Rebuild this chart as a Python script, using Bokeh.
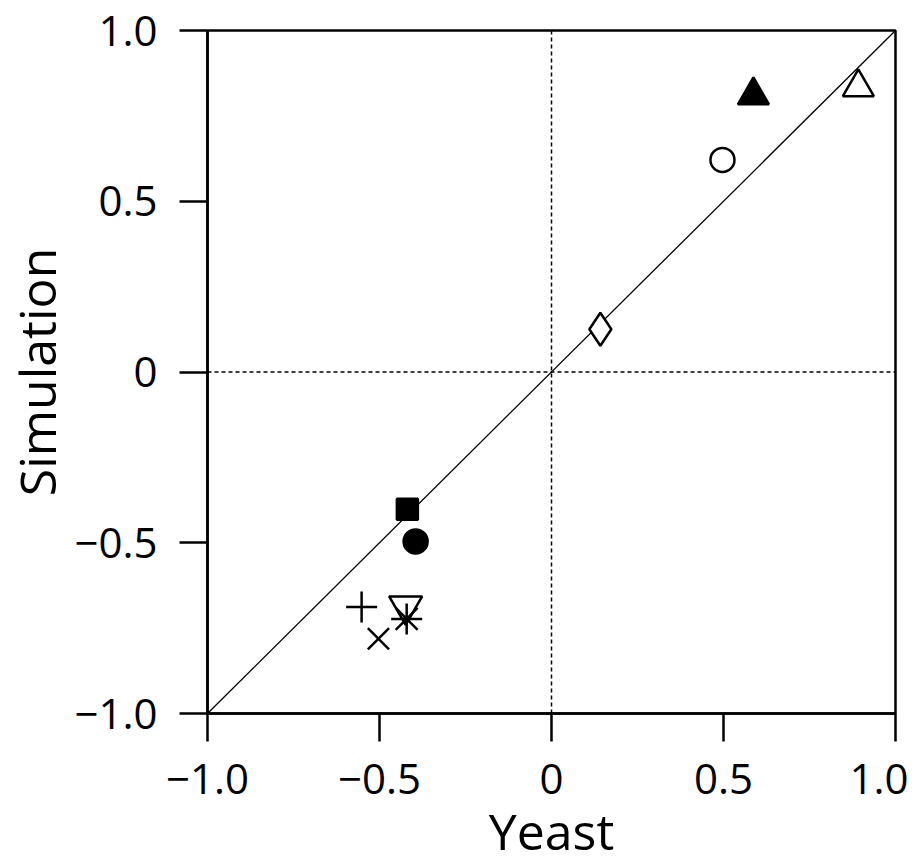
from bokeh.plotting import figure
from bokeh.models import Range1d, FixedTicker, Span, ColumnDataSource
from bokeh.embed import file_html
from bokeh.resources import INLINE

# data
yeast = [0.587, 0.892, 0.497, 0.142, -0.419, -0.395, -0.552, -0.503, -0.424, -0.421]
simulation = [0.810, 0.834, 0.621, 0.125, -0.402, -0.496, -0.688, -0.781, -0.685, -0.723]
markers = ["triangle", "triangle", "circle", "diamond", "square", "circle",
           "cross", "x", "inverted_triangle", "asterisk"]
fills = ["black", "white", "white", "white", "black", "black",
         "white", "white", "white", "white"]
sizes = [31, 31, 24, 33, 21, 24, 31, 30, 33, 31]
diag_x = [-1.0, 1.0]
diag_y = [-1.0, 1.0]
ticks = [-1.0, -0.5, 0.0, 0.5, 1.0]
tick_labels = ["\u22121.0", "\u22120.5", "0", "0.5", "1.0"]
x_title = "Yeast"
y_title = "Simulation"

FONT = "Open Sans"

p = figure(output_backend="svg", toolbar_location=None,
           frame_width=688, frame_height=683,
           min_border_left=207, min_border_right=13,
           min_border_top=30, min_border_bottom=120,
           x_range=Range1d(-1, 1), y_range=Range1d(-1, 1))
p.grid.visible = False
p.background_fill_color = "white"
p.border_fill_color = "white"
p.outline_line_color = "black"
p.outline_line_width = 2.5
p.outline_line_alpha = 1.0

for ax in (p.xaxis[0], p.yaxis[0]):
    ax.ticker = FixedTicker(ticks=ticks)
    ax.major_label_overrides = {t: l for t, l in zip(ticks, tick_labels)}
    ax.major_tick_out = 28
    ax.major_tick_in = 0
    ax.minor_tick_out = 0
    ax.minor_tick_in = 0
    ax.axis_line_width = 2.5
    ax.major_tick_line_width = 2.5
    ax.axis_line_color = "black"
    ax.major_tick_line_color = "black"
    ax.major_label_text_font = FONT
    ax.major_label_text_font_size = "42px"
    ax.major_label_text_color = "black"
    ax.major_label_standoff = 22
    ax.axis_label_text_font = FONT
    ax.axis_label_text_font_size = "50px"
    ax.axis_label_text_font_style = "normal"
    ax.axis_label_text_color = "black"

p.xaxis.axis_label = x_title
p.yaxis.axis_label = y_title
p.xaxis.axis_label_standoff = 0
p.yaxis.axis_label_standoff = 0

p.add_layout(Span(location=0, dimension="height", line_color="black",
                  line_width=1.5, line_dash="4 3"))
p.add_layout(Span(location=0, dimension="width", line_color="black",
                  line_width=1.5, line_dash="4 3"))

p.line(diag_x, diag_y, line_color="black", line_width=1.3)

src = ColumnDataSource(dict(x=yeast, y=simulation, marker=markers,
                            fill=fills, size=sizes))
p.scatter(x="x", y="y", marker="marker", size="size", source=src,
          fill_color="fill", line_color="black", line_width=2.5)

open("out.html", "w").write(file_html(p, INLINE))
